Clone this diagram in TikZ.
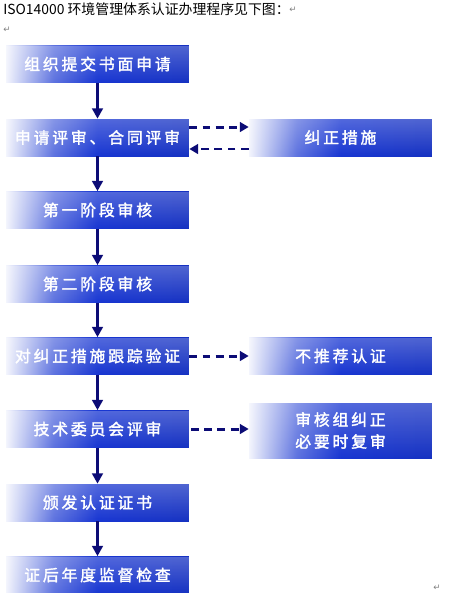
\documentclass[tikz,border=0pt]{standalone}
\usepackage{fontspec}
\usetikzlibrary{arrows.meta, fadings}

\newfontfamily\cjk{Noto Sans CJK SC}
\newfontfamily\boxfont[LetterSpace=18, FakeBold=2]{Noto Sans CJK SC}
\newfontfamily\markfont{DejaVu Sans}

\definecolor{boxblue}{RGB}{24,54,210}
\definecolor{arrownavy}{RGB}{12,12,118}
\pgfdeclarehorizontalshading{boxshade}{100bp}{color(0bp)=(boxblue!5!white); color(25bp)=(boxblue!5!white); color(38bp)=(boxblue!70!white); color(50bp)=(boxblue); color(75bp)=(boxblue!92!black); color(100bp)=(boxblue!92!black)}

\tikzset{
    stagebox/.style={shade, shading=boxshade, minimum width=3.66cm, minimum height=0.74cm,
        inner sep=0pt, text=white, align=center,
        font=\boxfont\fontsize{9}{12.5}\selectfont,
        path picture={\fill[white, fill opacity=0.25, path fading=south]
            (path picture bounding box.south west) rectangle (path picture bounding box.north east);}},
    flow/.style={arrownavy, line width=1.7pt, -{Triangle[length=5.8pt, width=6pt]}},
    loop/.style={arrownavy, line width=1.7pt, dash pattern=on 4.5pt off 3pt,
        -{Triangle[length=5pt, width=5.5pt]}},
    pmark/.style={inner sep=0pt, text=gray, font=\markfont\fontsize{5}{6}\selectfont}
}

\begin{document}
\begin{tikzpicture}[x=0.02cm, y=-0.02cm]
    \useasboundingbox (0,0) rectangle (458,593);

    % 标题
    \node[anchor=west, inner sep=0pt, font=\cjk\fontsize{7.9}{10}\selectfont] (title) at (3,9)
        {ISO14000 环境管理体系认证办理程序见下图：};
    \node[pmark] (mark1) at (293,10) {↵};
    \node[pmark] (mark2) at (7,30) {↵};
    \node[pmark] (mark3) at (437,588) {↵};

    % 主流程
    \node[stagebox] (apply)   at (97.5,64)    {组织提交书面申请};
    \node[stagebox] (review)  at (97.5,137.5) {申请评审、合同评审};
    \node[stagebox] (audit1)  at (97.5,210)   {第一阶段审核};
    \node[stagebox] (audit2)  at (97.5,284)   {第二阶段审核};
    \node[stagebox] (verify)  at (97.5,356)   {对纠正措施跟踪验证};
    \node[stagebox] (board)   at (97.5,429)   {技术委员会评审};
    \node[stagebox] (issue)   at (97.5,502.5) {颁发认证证书};
    \node[stagebox] (survey)  at (97.5,575)   {证后年度监督检查};

    % 右侧
    \node[stagebox] (fix)     at (340.5,137.5) {纠正措施};
    \node[stagebox] (reject)  at (340.5,356)   {不推荐认证};
    \node[stagebox, minimum height=1.1cm] (recheck) at (340.5,430.5) {审核组纠正\\必要时复审};

    % 实线箭头
    \draw[flow] (apply) -- (review);
    \draw[flow] (review) -- (audit1);
    \draw[flow] (audit1) -- (audit2);
    \draw[flow] (audit2) -- (verify);
    \draw[flow] (verify) -- (board);
    \draw[flow] (board) -- (issue);
    \draw[flow] (issue) -- (survey);

    % 虚线箭头
    \draw[loop] ([yshift=0.21cm]review.east) -- ([yshift=0.21cm]fix.west);
    \draw[loop] ([yshift=-0.23cm]fix.west) -- ([yshift=-0.23cm]review.east);
    \draw[loop] (verify) -- (reject);
    \draw[loop] ([xshift=1pt]board.east) -- (board.east -| recheck.west);
\end{tikzpicture}
\end{document}
